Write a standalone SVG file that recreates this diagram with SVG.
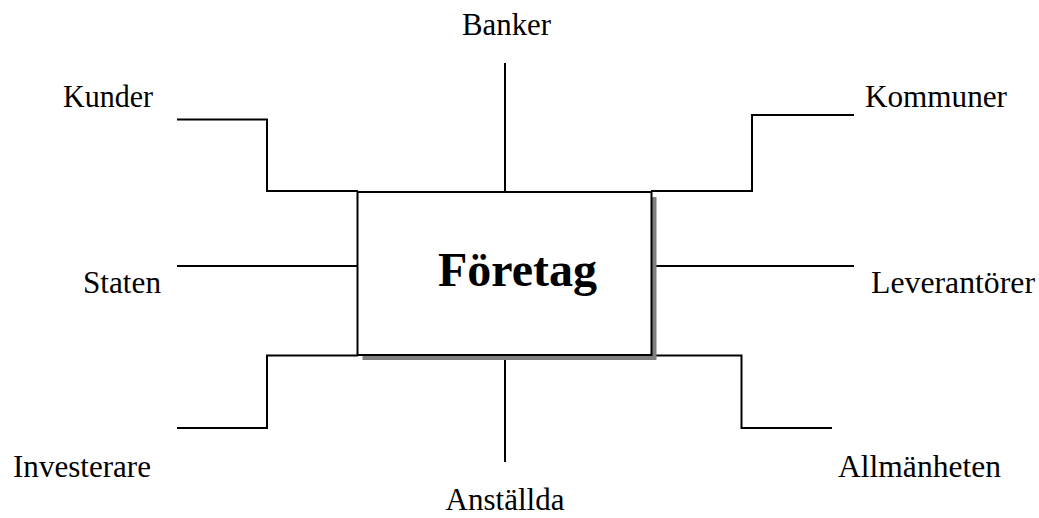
<svg xmlns="http://www.w3.org/2000/svg" width="1039" height="518" viewBox="0 0 1039 518">
<style>
.lbl{font-family:"Liberation Serif","Times New Roman",serif;font-size:31px;fill:#000}
.title{font-family:"Liberation Serif","Times New Roman",serif;font-size:48px;font-weight:bold;fill:#000}
.ln{fill:none;stroke:#000;stroke-width:2}
</style>
<rect width="1039" height="518" fill="#fff"/>
<g id="connectors">
<polyline class="ln" points="177,119.5 267,119.5 267,191 358,191"/>
<polyline class="ln" points="651,191 752,191 752,115 854,115"/>
<line class="ln" x1="505" y1="63" x2="505" y2="192"/>
<line class="ln" x1="177" y1="266" x2="358" y2="266"/>
<line class="ln" x1="651" y1="266" x2="854" y2="266"/>
<polyline class="ln" points="358,355.5 267,355.5 267,428 177,428"/>
<polyline class="ln" points="651,355.5 741.5,355.5 741.5,428 832,428"/>
<line class="ln" x1="505" y1="355" x2="505" y2="462"/>
</g>
<g id="foretag">
<rect x="362.5" y="197" width="294" height="163" fill="#808080"/>
<rect x="357.5" y="192" width="294" height="163" fill="#fff" stroke="#000" stroke-width="2"/>
<text class="title" x="438" y="286">Företag</text>
</g>
<g id="banker"><text class="lbl" x="462" y="35" textLength="89" lengthAdjust="spacingAndGlyphs">Banker</text></g>
<g id="kunder"><text class="lbl" x="63" y="107" textLength="90" lengthAdjust="spacingAndGlyphs">Kunder</text></g>
<g id="kommuner"><text class="lbl" x="865" y="107" textLength="142" lengthAdjust="spacingAndGlyphs">Kommuner</text></g>
<g id="staten"><text class="lbl" x="83" y="293" textLength="78" lengthAdjust="spacingAndGlyphs">Staten</text></g>
<g id="leverantorer"><text class="lbl" x="871" y="293" textLength="164" lengthAdjust="spacingAndGlyphs">Leverantörer</text></g>
<g id="investerare"><text class="lbl" x="13" y="477" textLength="138" lengthAdjust="spacingAndGlyphs">Investerare</text></g>
<g id="allmanheten"><text class="lbl" x="838" y="477" textLength="163" lengthAdjust="spacingAndGlyphs">Allmänheten</text></g>
<g id="anstallda"><text class="lbl" x="505" y="510" text-anchor="middle">Anställda</text></g>
</svg>
